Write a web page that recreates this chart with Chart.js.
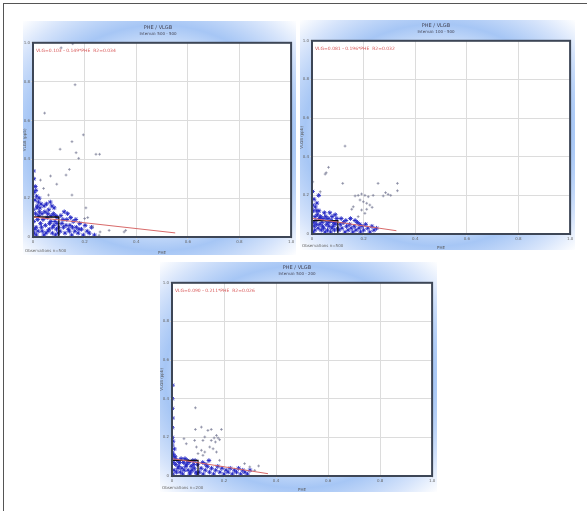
<!DOCTYPE html>
<html>
<head>
<meta charset="utf-8">
<script src="https://cdn.jsdelivr.net/npm/chart.js@4"></script>
<style>
  body { margin: 0; width: 587px; height: 511px; background: #fff; position: relative; overflow: hidden; }
  #frame { position: absolute; left: 3px; top: 3px; width: 600px; height: 520px; border-top: 1px solid #555; border-left: 1px solid #555; }
  .panel { position: absolute; }
</style>
</head>
<body>
<div id="frame"></div>
<div class="panel" style="left:23px;top:21px"><canvas id="c1" width="273" height="234"></canvas></div>
<div class="panel" style="left:300px;top:20px"><canvas id="c2" width="275" height="230"></canvas></div>
<div class="panel" style="left:160px;top:262px"><canvas id="c3" width="277" height="230"></canvas></div>
<script>
// tick values, same on both axes
const xTicks = [0, 0.2, 0.4, 0.6, 0.8, 1];
const yTicks = [0, 0.2, 0.4, 0.6, 0.8, 1];

const titles = ['PHE / VLGB', 'PHE / VLGB', 'PHE / VLGB'];
const subtitles = ['Interval: 500 - 500', 'Interval: 100 - 500', 'Interval: 500 - 200'];
const equations = [
  'VLG=0.103 - 0.149*PHE  R2=0.034',
  'VLG=0.081 - 0.196*PHE  R2=0.032',
  'VLG=0.090 - 0.211*PHE  R2=0.026'
];
const footers = ['Observations n=500', 'Observations n=500', 'Observations n=200'];

// panel 1 points
const dense1 = [
  [0.005,0.02],[0.012,0.05],[0.018,0.09],[0.025,0.13],[0.031,0.17],[0.008,0.19],[0.015,0.15],[0.022,0.11],[0.029,0.07],[0.036,0.03],
  [0.042,0.01],[0.048,0.06],[0.055,0.10],[0.061,0.14],[0.067,0.18],[0.073,0.16],[0.079,0.12],[0.085,0.08],[0.091,0.04],[0.097,0.02],
  [0.003,0.08],[0.010,0.12],[0.017,0.16],[0.024,0.20],[0.033,0.05],[0.039,0.09],[0.046,0.13],[0.052,0.17],[0.058,0.03],[0.064,0.07],
  [0.070,0.11],[0.076,0.05],[0.082,0.15],[0.088,0.11],[0.094,0.07],[0.002,0.14],[0.007,0.04],[0.013,0.01],[0.020,0.03],[0.027,0.15],
  [0.035,0.12],[0.043,0.16],[0.050,0.02],[0.057,0.12],[0.063,0.04],[0.069,0.08],[0.075,0.02],[0.081,0.06],[0.087,0.01],[0.093,0.10],
  [0.099,0.05],[0.004,0.23],[0.009,0.26],[0.014,0.21],[0.003,0.30],[0.002,0.34],[0.011,0.24],[0.021,0.18],
  [0.105,0.03],[0.112,0.07],[0.118,0.05],[0.124,0.02],[0.131,0.09],[0.137,0.04],[0.143,0.06],[0.150,0.01],[0.156,0.08],[0.162,0.03],
  [0.168,0.05],[0.175,0.02],[0.181,0.07],[0.188,0.04],[0.195,0.01],[0.202,0.06],[0.210,0.03],[0.218,0.02],[0.227,0.05],[0.238,0.01],
  [0.108,0.11],[0.121,0.13],[0.134,0.12],[0.146,0.10],[0.116,0.09],[0.128,0.06],[0.141,0.03],[0.153,0.05],[0.166,0.09],[0.178,0.04]
];
const sparse1 = [
  [0.154,0.995],[0.109,0.974],[0.163,0.784],[0.045,0.638],[0.195,0.526],[0.151,0.491],[0.105,0.452],[0.167,0.434],
  [0.177,0.405],[0.244,0.426],[0.258,0.426],[0.141,0.348],[0.068,0.314],[0.128,0.319],[0.029,0.293],[0.092,0.272],
  [0.041,0.250],[0.151,0.216],[0.060,0.216],[0.205,0.150],[0.212,0.100],[0.200,0.095],[0.295,0.034],[0.260,0.026],
  [0.353,0.026],[0.359,0.034],[0.256,0.009],[0.231,0.052]
];
const regLine1 = [[0, 0.103], [0.551, 0.021]];
const box1 = [[0, 0.103], [0.1, 0.103], [0.1, 0]];

// panel 2 points
const dense2 = [
  [0.004,0.01],[0.009,0.04],[0.015,0.07],[0.021,0.10],[0.027,0.12],[0.033,0.09],[0.039,0.06],[0.045,0.03],[0.051,0.01],[0.057,0.05],
  [0.063,0.08],[0.069,0.11],[0.075,0.07],[0.081,0.04],[0.087,0.02],[0.093,0.06],[0.099,0.03],[0.006,0.06],[0.012,0.09],[0.018,0.12],
  [0.024,0.03],[0.030,0.05],[0.036,0.02],[0.042,0.08],[0.048,0.11],[0.054,0.07],[0.060,0.02],[0.066,0.04],[0.072,0.01],[0.078,0.09],
  [0.084,0.06],[0.090,0.10],[0.096,0.08],[0.003,0.15],[0.008,0.18],[0.013,0.14],[0.019,0.16],[0.026,0.20],[0.002,0.22],[0.005,0.12],
  [0.011,0.02],[0.017,0.05],[0.029,0.08],[0.041,0.04],[0.053,0.09],[0.065,0.06],[0.077,0.03],[0.089,0.05],
  [0.104,0.02],[0.110,0.05],[0.116,0.03],[0.122,0.06],[0.128,0.01],[0.134,0.04],[0.140,0.02],[0.146,0.05],[0.152,0.03],[0.158,0.01],
  [0.164,0.04],[0.170,0.02],[0.176,0.06],[0.182,0.03],[0.188,0.01],[0.194,0.04],[0.200,0.02],[0.208,0.05],[0.216,0.03],[0.224,0.01],
  [0.232,0.04],[0.240,0.02],[0.250,0.03],[0.113,0.08],[0.131,0.07],[0.149,0.08],[0.167,0.07],[0.185,0.05]
];
const sparse2 = [
  [0.128,0.455],[0.064,0.345],[0.055,0.317],[0.051,0.310],[0.119,0.262],[0.256,0.262],[0.331,0.262],[0.331,0.224],
  [0.032,0.219],[0.003,0.270],[0.167,0.197],[0.179,0.200],[0.192,0.207],[0.205,0.200],[0.218,0.193],[0.237,0.200],
  [0.186,0.176],[0.199,0.167],[0.212,0.159],[0.160,0.141],[0.192,0.124],[0.205,0.107],[0.224,0.150],[0.233,0.138],
  [0.154,0.128],[0.179,0.090],[0.212,0.128],[0.276,0.197],[0.295,0.205],[0.305,0.200],[0.285,0.214]
];
const regLine2 = [[0, 0.081], [0.327, 0.017]];
const box2 = [[0, 0.069], [0.1, 0.069], [0.1, 0]];

// panel 3 points
const dense3 = [
  [0.003,0.01],[0.008,0.03],[0.014,0.06],[0.020,0.08],[0.026,0.05],[0.032,0.02],[0.038,0.04],[0.044,0.07],[0.050,0.09],[0.056,0.06],
  [0.062,0.03],[0.068,0.01],[0.074,0.05],[0.080,0.08],[0.086,0.04],[0.092,0.02],[0.098,0.06],[0.005,0.07],[0.011,0.09],[0.017,0.02],
  [0.023,0.04],[0.029,0.07],[0.035,0.09],[0.041,0.01],[0.047,0.03],[0.053,0.05],[0.059,0.08],[0.065,0.07],[0.071,0.02],[0.077,0.03],
  [0.083,0.06],[0.089,0.08],[0.095,0.01],
  [0.001,0.12],[0.001,0.16],[0.001,0.20],[0.001,0.25],[0.002,0.30],[0.001,0.35],[0.001,0.40],[0.002,0.47],[0.006,0.11],[0.009,0.14],
  [0.012,0.10],[0.004,0.18],
  [0.105,0.02],[0.112,0.04],[0.120,0.01],[0.128,0.03],[0.136,0.05],[0.144,0.02],[0.152,0.04],[0.160,0.01],[0.168,0.03],[0.176,0.05],
  [0.184,0.02],[0.192,0.04],[0.200,0.01],[0.208,0.03],[0.216,0.02],[0.224,0.04],[0.232,0.01],[0.240,0.03],[0.248,0.02],[0.256,0.04],
  [0.264,0.01],[0.272,0.03],[0.280,0.02],[0.290,0.01],[0.300,0.03],[0.118,0.07],[0.130,0.06],[0.142,0.08]
];
const sparse3 = [
  [0.090,0.353],[0.113,0.253],[0.090,0.241],[0.138,0.236],[0.151,0.241],[0.190,0.241],[0.171,0.210],[0.162,0.197],
  [0.177,0.197],[0.183,0.188],[0.151,0.184],[0.167,0.176],[0.126,0.202],[0.119,0.184],[0.087,0.184],[0.046,0.193],
  [0.055,0.167],[0.094,0.150],[0.113,0.133],[0.126,0.124],[0.100,0.116],[0.171,0.124],[0.145,0.150],[0.158,0.141],
  [0.183,0.081],[0.119,0.107],[0.279,0.064],[0.299,0.047],[0.333,0.052],[0.318,0.029]
];
const regLine3 = [[0, 0.090], [0.369, 0.012]];
const box3 = [[0, 0.081], [0.1, 0.081], [0.1, 0]];

const toXY = arr => arr.map(([x, y]) => ({ x, y }));

const panelPlugin = {
  id: 'panel',
  beforeDraw(chart) {
    const { ctx, width: w, height: h } = chart;
    ctx.save();
    ctx.fillStyle = '#fff';
    ctx.fillRect(0, 0, w, h);
    ctx.translate(w / 2, h / 2);
    ctx.scale(w / 2, h / 2);
    const g = ctx.createRadialGradient(0, 0, 0, 0, 0, 1.42);
    g.addColorStop(0, '#ffffff');
    g.addColorStop(0.45, '#eef4fe');
    g.addColorStop(0.68, '#a6c6f5');
    g.addColorStop(0.86, '#d6e4fb');
    g.addColorStop(1, '#ffffff');
    ctx.fillStyle = g;
    ctx.fillRect(-1, -1, 2, 2);
    ctx.restore();
    // white plot area
    const a = chart.chartArea;
    ctx.save();
    ctx.fillStyle = '#fff';
    ctx.fillRect(a.left, a.top, a.right - a.left, a.bottom - a.top);
    ctx.restore();
  },
  afterDraw(chart, args, opts) {
    const { ctx, chartArea: a, height: h } = chart;
    ctx.save();
    ctx.strokeStyle = '#3d4656';
    ctx.lineWidth = 2;
    ctx.strokeRect(a.left, a.top, a.right - a.left, a.bottom - a.top);
    ctx.font = '4.5px "DejaVu Sans"';
    ctx.fillStyle = '#d85a5a';
    ctx.textBaseline = 'middle';
    ctx.fillText(opts.equation, a.left + 3, a.top + 8);
    ctx.font = '4px "DejaVu Sans"';
    ctx.fillStyle = '#666';
    ctx.fillText(opts.footer, 2, h - 4);
    ctx.restore();
  }
};

function makeChart(id, i, dense, sparse, reg, box, yWidth, xHeight, padTop) {
  new Chart(document.getElementById(id), {
    type: 'scatter',
    data: {
      datasets: [
        { type: 'line', data: toXY(reg), borderColor: '#d86a6a', borderWidth: 1, pointRadius: 0 },
        { type: 'line', data: toXY(box), borderColor: '#111', borderWidth: 1.3, pointRadius: 0 },
        { data: toXY(sparse), pointStyle: 'cross', pointRadius: 1.4, borderWidth: 0.7, borderColor: '#7a7c96' },
        { data: toXY(dense), pointStyle: 'star', pointRadius: 2.3, borderWidth: 0.9, borderColor: '#2428c4' }
      ]
    },
    options: {
      responsive: false,
      animation: false,
      events: [],
      layout: { padding: { top: padTop, right: 3, left: 0, bottom: 0 } },
      plugins: {
        legend: { display: false },
        tooltip: { enabled: false },
        title: { display: true, text: titles[i], color: '#445', font: { size: 5, weight: 'normal', family: 'DejaVu Sans' }, padding: { top: 3, bottom: 1 } },
        subtitle: { display: true, text: subtitles[i], color: '#445', font: { size: 4, family: 'DejaVu Sans' }, padding: { top: 0, bottom: 6 } },
        panel: { equation: equations[i], footer: footers[i] }
      },
      scales: {
        x: {
          type: 'linear', min: 0, max: 1,
          afterBuildTicks: s => { s.ticks = xTicks.map(v => ({ value: v })); },
          ticks: { font: { size: 4, family: 'DejaVu Sans' }, color: '#666', padding: 1 },
          grid: { color: '#dcdcdc', tickLength: 2 },
          border: { display: false },
          title: { display: true, text: 'PHE', color: '#555', font: { size: 4, family: 'DejaVu Sans' }, padding: 0 },
          afterFit: s => { s.height = xHeight; }
        },
        y: {
          type: 'linear', min: 0, max: 1,
          afterBuildTicks: s => { s.ticks = yTicks.map(v => ({ value: v })); },
          ticks: { font: { size: 4, family: 'DejaVu Sans' }, color: '#666', padding: 1 },
          grid: { color: '#dcdcdc', tickLength: 2 },
          border: { display: false },
          title: { display: true, text: 'VLGB (ppb)', color: '#555', font: { size: 4, family: 'DejaVu Sans' }, padding: 0 },
          afterFit: s => { s.width = yWidth; }
        }
      }
    },
    plugins: [panelPlugin]
  });
}

makeChart('c1', 0, dense1, sparse1, regLine1, box1, 10, 18, 1);
makeChart('c2', 1, dense2, sparse2, regLine2, box2, 12, 16, 0);
makeChart('c3', 2, dense3, sparse3, regLine3, box3, 12, 16, 0);
</script>
</body>
</html>
